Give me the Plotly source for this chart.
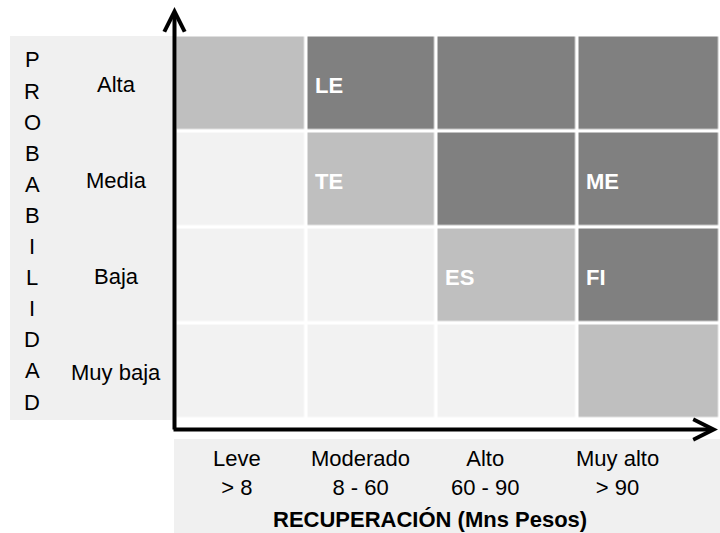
import plotly.graph_objects as go

# ---- data ----
PROB_LEVELS = ["Muy baja", "Baja", "Media", "Alta"]          # bottom -> top
IMPACT_LEVELS = ["Leve", "Moderado", "Alto", "Muy alto"]
IMPACT_RANGES = ["> 8", "8 - 60", "60 - 90", "> 90"]
AXIS_Y_TITLE = "PROBABILIDAD"
AXIS_X_TITLE = "RECUPERACIÓN (Mns Pesos)"

# risk level per cell: 0 = bajo, 1 = medio, 2 = alto (rows bottom -> top)
RISK_LEVEL = [
    [0, 0, 0, 1],
    [0, 0, 1, 2],
    [0, 1, 2, 2],
    [1, 2, 2, 2],
]
CELL_CODES = [
    ["", "", "", ""],
    ["", "", "ES", "FI"],
    ["", "TE", "", "ME"],
    ["", "LE", "", ""],
]

# ---- layout / style ----
W, H = 720, 533
FONT = "Arial, Liberation Sans, sans-serif"
LIGHT, MID, DARK = "#f2f2f2", "#bfbfbf", "#808080"
PANEL = "#f0f0f0"
COL_WIDTHS = [131, 130, 141, 143]


def px(x, y):
    return x / W, 1 - y / H


col_edges = [0]
for w in COL_WIDTHS:
    col_edges.append(col_edges[-1] + w)

fig = go.Figure(go.Heatmap(
    z=RISK_LEVEL,
    x=col_edges,
    y=list(range(len(PROB_LEVELS))),
    zmin=0, zmax=2,
    colorscale=[[0, LIGHT], [0.33, LIGHT], [0.33, MID], [0.67, MID],
                [0.67, DARK], [1, DARK]],
    showscale=False,
    xgap=3.5, ygap=3.5,
    hoverinfo="skip",
))

shapes = [
    # grey panels behind the labels
    dict(type="rect", xref="paper", yref="paper", layer="below",
         x0=px(10, 0)[0], x1=px(176, 0)[0], y0=px(0, 420)[1], y1=px(0, 36)[1],
         fillcolor=PANEL, line_width=0),
    dict(type="rect", xref="paper", yref="paper", layer="below",
         x0=px(174, 0)[0], x1=1, y0=0, y1=px(0, 439)[1],
         fillcolor=PANEL, line_width=0),
]

annotations = []

# axes with arrows
hx, hy = px(174.5, 7)
annotations.append(dict(x=hx, y=hy, xref="paper", yref="paper", text="",
                        showarrow=True, ax=0, ay=424, arrowhead=5,
                        arrowwidth=4, arrowsize=1, arrowcolor="black",
                        standoff=0))
hx, hy = px(718, 429.5)
annotations.append(dict(x=hx, y=hy, xref="paper", yref="paper", text="",
                        showarrow=True, ax=-546, ay=0, arrowhead=5,
                        arrowwidth=4, arrowsize=1, arrowcolor="black",
                        standoff=0))

# vertical axis title, one letter per line
n = len(AXIS_Y_TITLE)
for i, ch in enumerate(AXIS_Y_TITLE):
    lx, ly = px(32, 60 + i * (402 - 60) / (n - 1))
    annotations.append(dict(x=lx, y=ly, xref="paper", yref="paper", text=ch,
                            showarrow=False, xanchor="center", yanchor="middle",
                            font=dict(size=22, color="black", family=FONT)))

# probability labels
for j, lab in enumerate(PROB_LEVELS):
    annotations.append(dict(x=px(116, 0)[0], y=j, xref="paper", yref="y",
                            text=lab, showarrow=False, yshift=-1,
                            xanchor="center", yanchor="middle",
                            font=dict(size=22, color="black", family=FONT)))

# impact labels
label_x = [237, 360, 485, 617]
for lab, rng, lx in zip(IMPACT_LEVELS, IMPACT_RANGES, label_x):
    annotations.append(dict(x=px(lx, 0)[0], y=px(0, 472.5)[1],
                            xref="paper", yref="paper",
                            text=f"{lab}<br>{rng.replace('>', '&gt;')}",
                            showarrow=False, xanchor="center", yanchor="middle",
                            font=dict(size=22, color="black", family=FONT)))
annotations.append(dict(x=px(430, 0)[0], y=px(0, 519.5)[1], xref="paper",
                        yref="paper", text=f"<b>{AXIS_X_TITLE}</b>",
                        showarrow=False, xanchor="center", yanchor="middle",
                        borderpad=0,
                        font=dict(size=22, color="black", family=FONT)))

# cell codes
for j, row in enumerate(CELL_CODES):
    for i, code in enumerate(row):
        if code:
            annotations.append(dict(x=col_edges[i], y=j, xref="x", yref="y",
                                    text=f"<b>{code}</b>", showarrow=False,
                                    xanchor="left", yanchor="middle",
                                    xshift=6, yshift=-2,
                                    font=dict(size=22, color="white",
                                              family=FONT)))

fig.update_layout(
    width=W, height=H,
    margin=dict(l=0, r=0, t=0, b=0),
    paper_bgcolor="white", plot_bgcolor="rgba(0,0,0,0)",
    xaxis=dict(visible=False, domain=[175.5 / W, 1],
               range=[0, col_edges[-1] - 0.5], fixedrange=True),
    yaxis=dict(visible=False, domain=[1 - 419.5 / H, 1 - 35.5 / H],
               range=[-0.5, len(PROB_LEVELS) - 0.5], fixedrange=True),
    shapes=shapes,
    annotations=annotations,
    showlegend=False,
)

# the page's default body margin would shift the figure by 8px
fig.write_html("out.html", config={"displayModeBar": False},
               post_script="document.body.style.margin='0px';")
